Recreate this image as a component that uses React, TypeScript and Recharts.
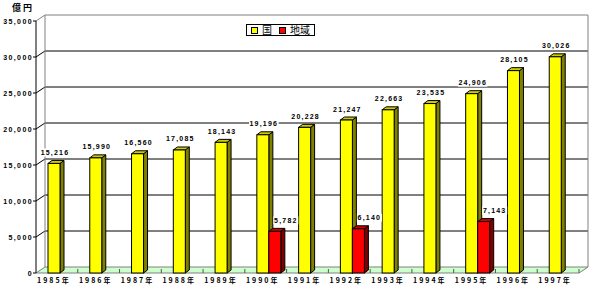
import React from "react";
import { BarChart, Bar, XAxis, YAxis, CartesianGrid, LabelList } from "recharts";

const years = ["1985年", "1986年", "1987年", "1988年", "1989年", "1990年", "1991年", "1992年", "1993年", "1994年", "1995年", "1996年", "1997年"];
const kuni = [15216, 15990, 16560, 17085, 18143, 19196, 20228, 21247, 22663, 23535, 24906, 28105, 30026];
const chiiki: (number | null)[] = [null, null, null, null, null, 5782, null, 6140, null, null, 7143, null, null];
const yTicks = [0, 5000, 10000, 15000, 20000, 25000, 30000, 35000];
const seriesNames = ["国", "地域"];

const data = years.map((year, i) => ({ year, kuni: kuni[i], chiiki: chiiki[i] }));

// 3D look
const DX = 9;
const DY = -6;
const SHIFT = 3;
const DEPTH_X = 4;
const DEPTH_Y = -3;
const PLOT_LEFT = 36;
const PLOT_RIGHT = 579;
const BAND = (PLOT_RIGHT - PLOT_LEFT) / years.length;

const fmt = (v: number) => v.toLocaleString("en-US");

function Bar3D(props: any) {
  const { x, y, width, height, fill, side, top } = props;
  if (height == null || height <= 0) return null;
  const fx = x + SHIFT;
  const b = y + height;
  return (
    <g stroke="#000" strokeWidth={1}>
      <polygon
        points={`${fx + width},${y} ${fx + width + DEPTH_X},${y + DEPTH_Y} ${fx + width + DEPTH_X},${b + DEPTH_Y} ${fx + width},${b}`}
        fill={side}
      />
      <polygon
        points={`${fx},${y} ${fx + DEPTH_X},${y + DEPTH_Y} ${fx + width + DEPTH_X},${y + DEPTH_Y} ${fx + width},${y}`}
        fill={top}
      />
      <rect x={fx} y={y} width={width} height={height} fill={fill} />
    </g>
  );
}

function valueLabel(offset: number) {
  return (props: any) => {
    const { x, y, width, value } = props;
    if (value == null) return null;
    const txt = fmt(value);
    const cx = x + SHIFT + width / 2 + offset;
    const cy = y - 11;
    const w = txt.length * 4.6;
    return (
      <g>
        <rect x={cx - w / 2 - 1} y={cy - 4} width={w + 2} height={8} fill="#fff" />
        <text
          x={cx}
          y={cy + 2.5}
          textAnchor="middle"
          fontSize={7}
          fontWeight="bold"
          letterSpacing={1.2}
          fontFamily="Liberation Sans, Arial, sans-serif"
          fill="#000"
        >
          {txt}
        </text>
      </g>
    );
  };
}

function GridLine(props: any) {
  const { x1, x2, y1 } = props;
  const top = props.y;
  const bottom = props.y + props.height;
  if (Math.abs(y1 - bottom) < 0.5) {
    return (
      <polygon
        points={`${x1},${y1} ${x2},${y1} ${x2 + DX},${y1 + DY} ${x1 + DX},${y1 + DY}`}
        fill="#ccffcc"
        stroke="#808080"
      />
    );
  }
  if (Math.abs(y1 - top) < 0.5) {
    return (
      <g stroke="#808080" fill="none">
        <line x1={x1} y1={y1} x2={x1 + DX} y2={y1 + DY} />
        <line x1={x1 + DX} y1={y1 + DY} x2={x2 + DX} y2={y1 + DY} />
        <line x1={x1 + DX} y1={y1 + DY} x2={x1 + DX} y2={bottom + DY} />
        <line x1={x2 + DX} y1={y1 + DY} x2={x2 + DX} y2={bottom + DY} />
      </g>
    );
  }
  return (
    <g stroke="#000" fill="none">
      <line x1={x1} y1={y1} x2={x1 + DX} y2={y1 + DY} />
      <line x1={x1 + DX} y1={y1 + DY} x2={x2 + DX} y2={y1 + DY} />
    </g>
  );
}

function YTick(props: any) {
  const { x, y, payload } = props;
  return (
    <text
      x={x + 1}
      y={y + 2.5}
      textAnchor="end"
      fontSize={7}
      fontWeight="bold"
      letterSpacing={1.4}
      fontFamily="Liberation Sans, Arial, sans-serif"
      fill="#000"
    >
      {fmt(payload.value)}
    </text>
  );
}

function XTick(props: any) {
  const { x, y, payload } = props;
  const bx = x + BAND / 2;
  return (
    <g>
      <line x1={bx} y1={y} x2={bx} y2={y - 4} stroke="#555" />
      <text
        x={x - 3}
        y={y + 10}
        textAnchor="middle"
        fontSize={7}
        fontWeight="bold"
        letterSpacing={2}
        fontFamily="Noto Sans CJK JP, sans-serif"
        fill="#000"
      >
        {payload.value}
      </text>
    </g>
  );
}

export default function App() {
  return (
    <div style={{ position: "absolute", left: 0, top: 0, width: 597, height: 295, background: "#fff" }}>
      <BarChart
        width={597}
        height={295}
        data={data}
        margin={{ top: 21, right: 597 - PLOT_RIGHT, bottom: 0, left: 0 }}
        barSize={12}
        barGap={0}
      >
        <CartesianGrid horizontal={GridLine} vertical={false} />
        <XAxis
          dataKey="year"
          height={22}
          axisLine={false}
          tickLine={false}
          tickSize={0}
          tickMargin={0}
          interval={0}
          tick={XTick}
        />
        <YAxis
          width={PLOT_LEFT}
          domain={[0, 35000]}
          ticks={yTicks}
          interval={0}
          axisLine={{ stroke: "#000" }}
          tickLine={{ stroke: "#000" }}
          tickSize={3}
          tickMargin={1}
          tick={YTick}
        />
        <Bar
          dataKey="kuni"
          name={seriesNames[0]}
          fill="#ffff00"
          isAnimationActive={false}
          shape={(p: any) => <Bar3D {...p} side="#808000" top="#cccc00" />}
        >
          <LabelList dataKey="kuni" content={valueLabel(1)} />
        </Bar>
        <Bar
          dataKey="chiiki"
          name={seriesNames[1]}
          fill="#ff0000"
          isAnimationActive={false}
          shape={(p: any) => <Bar3D {...p} side="#800000" top="#cc0000" />}
        >
          <LabelList dataKey="chiiki" content={valueLabel(11)} />
        </Bar>
      </BarChart>
      <div
        style={{
          position: "absolute",
          left: 12,
          top: 3,
          fontSize: 9,
          fontWeight: "bold",
          fontFamily: "Noto Sans CJK JP, sans-serif",
          letterSpacing: 2,
          lineHeight: "10px",
        }}
      >
        億円
      </div>
      <div
        style={{
          position: "absolute",
          left: 246,
          top: 24,
          width: 67,
          height: 10,
          border: "1px solid #000",
          background: "#fff",
          display: "flex",
          alignItems: "center",
          fontFamily: "Noto Sans CJK JP, sans-serif",
          fontSize: 10,
          lineHeight: "10px",
        }}
      >
        <span style={{ width: 5, height: 5, border: "1px solid #000", background: "#ffff00", marginLeft: 4, marginRight: 4 }} />
        <span>{seriesNames[0]}</span>
        <span style={{ width: 5, height: 5, border: "1px solid #000", background: "#ff0000", marginLeft: 7, marginRight: 4 }} />
        <span>{seriesNames[1]}</span>
      </div>
    </div>
  );
}
